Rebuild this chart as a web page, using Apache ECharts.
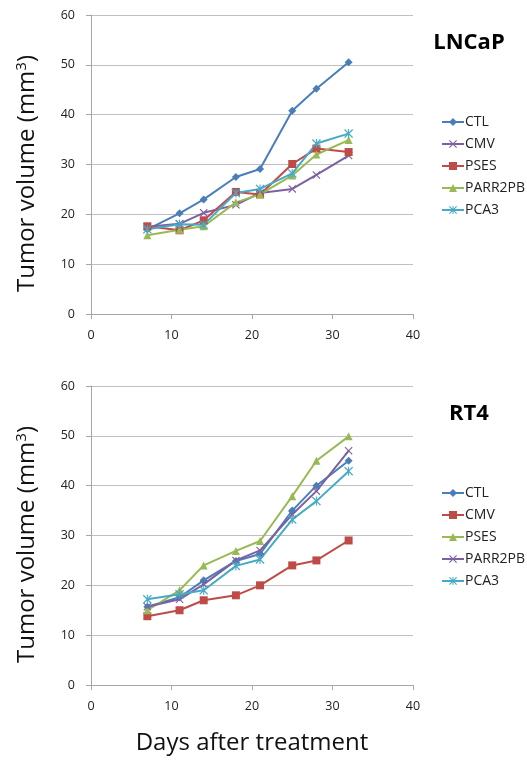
<!DOCTYPE html>
<html>
<head>
<meta charset="utf-8">
<script src="https://cdn.jsdelivr.net/npm/echarts@6/dist/echarts.min.js"></script>
<style>
  html, body { margin: 0; padding: 0; background: #fff; }
  #top { position: absolute; left: 0; top: 0; width: 527px; height: 372px; }
  #bottom { position: absolute; left: 0; top: 372px; width: 527px; height: 388px; }
</style>
</head>
<body>
<div id="top"></div>
<div id="bottom"></div>
<script>
// days after treatment
var days = [7, 11, 14, 18, 21, 25, 28, 32];

// LNCaP
var lnCTL     = [17.0, 20.2, 23.0, 27.5, 29.1, 40.8, 45.2, 50.5];
var lnCMV     = [17.5, 18.1, 20.3, 21.9, 24.3, 25.1, 27.9, 31.8];
var lnPSES    = [17.6, 16.8, 18.8, 24.5, 24.0, 30.1, 33.2, 32.5];
var lnPARR2PB = [15.8, 16.9, 17.6, 22.4, 24.0, 27.8, 32.0, 34.9];
var lnPCA3    = [17.0, 18.0, 17.9, 24.3, 25.1, 28.2, 34.2, 36.2];

// RT4
var rtCTL     = [15.7, 17.6, 21.0, 24.9, 26.3, 35.0, 40.0, 45.0];
var rtCMV     = [13.8, 15.0, 17.0, 18.0, 20.0, 24.0, 25.0, 29.0];
var rtPSES    = [15.0, 19.0, 24.0, 26.9, 28.9, 37.9, 45.0, 49.9];
var rtPARR2PB = [15.7, 17.2, 20.2, 25.0, 27.0, 34.2, 38.9, 47.0];
var rtPCA3    = [17.2, 18.2, 19.0, 23.9, 25.2, 33.2, 36.9, 42.9];

var BLUE = '#4a7ebb', RED = '#be4b48', GREEN = '#98b954', PURPLE = '#7d60a0', CYAN = '#46aac5';

var crossPath = 'path://M0,1L1,0L5,4L9,0L10,1L6,5L10,9L9,10L5,6L1,10L0,9L4,5Z';
var starPath = 'path://M0,1L1,0L5,4L9,0L10,1L6,5L10,9L9,10L5,6L1,10L0,9L4,5Z M4.4,0L5.6,0L5.6,10L4.4,10Z';

var marks = {
  diamond: { symbol: 'diamond', size: 8 },
  square: { symbol: 'rect', size: 8 },
  triangle: { symbol: 'triangle', size: 8 },
  cross: { symbol: crossPath, size: 8 },
  star: { symbol: starPath, size: 9 }
};

function pairs(vals) {
  return days.map(function (d, i) { return [d, vals[i]]; });
}

function mkSeries(name, vals, color, mark) {
  return {
    name: name,
    type: 'line',
    data: pairs(vals),
    symbol: marks[mark].symbol,
    symbolSize: marks[mark].size,
    showSymbol: true,
    lineStyle: { color: color, width: 2 },
    itemStyle: { color: color },
    emphasis: { disabled: true },
    animation: false
  };
}

function buildOption(title, series, showXName, gridTop) {
  return {
    animation: false,
    textStyle: { fontFamily: 'Open Sans' },
    title: {
      text: title,
      left: 464,
      textAlign: 'center',
      top: gridTop + 12,
      textStyle: { fontSize: 22, fontWeight: 'bold', color: '#000', fontFamily: 'Open Sans' }
    },
    legend: {
      orient: 'vertical',
      left: 436,
      top: gridTop + 95,
      itemGap: 8,
      itemWidth: 22,
      itemHeight: 10,
      textStyle: { fontSize: 14, color: '#222', padding: [0, 0, 0, -4] },
      data: series.map(function (s) { return s.name; })
    },
    grid: { left: 91, top: gridTop, width: 322, height: 299 },
    xAxis: {
      type: 'value',
      min: 0, max: 40, interval: 10,
      name: showXName ? 'Days after treatment' : '',
      nameLocation: 'middle',
      nameGap: 46,
      nameTextStyle: { fontSize: 24, color: '#111' },
      axisLine: { show: true, lineStyle: { color: '#a6a6a6' } },
      axisTick: { show: true, inside: false, length: 5, lineStyle: { color: '#a6a6a6' } },
      axisLabel: { fontSize: 12.5, color: '#222', margin: 15 },
      splitLine: { show: false }
    },
    yAxis: {
      type: 'value',
      min: 0, max: 60, interval: 10,
      name: 'Tumor volume (mm{sup|3})',
      nameLocation: 'middle',
      nameGap: 50,
      nameTextStyle: {
        fontSize: 24, color: '#111', padding: [0, 18, 0, 0],
        rich: { sup: { fontSize: 15, verticalAlign: 'top', padding: [0, 0, 12, 0], color: '#111' } }
      },
      axisLine: { show: true, lineStyle: { color: '#a6a6a6' } },
      axisTick: { show: true, inside: false, length: 5, lineStyle: { color: '#a6a6a6' } },
      axisLabel: { fontSize: 12.5, color: '#222', margin: 16 },
      splitLine: { show: true, lineStyle: { color: '#bfbfbf', width: 1 } }
    },
    series: series
  };
}

var topChart = echarts.init(document.getElementById('top'));
topChart.setOption(buildOption('LNCaP', [
  mkSeries('CTL', lnCTL, BLUE, 'diamond'),
  mkSeries('CMV', lnCMV, PURPLE, 'cross'),
  mkSeries('PSES', lnPSES, RED, 'square'),
  mkSeries('PARR2PB', lnPARR2PB, GREEN, 'triangle'),
  mkSeries('PCA3', lnPCA3, CYAN, 'star')
], false, 15));

var bottomChart = echarts.init(document.getElementById('bottom'));
bottomChart.setOption(buildOption('RT4', [
  mkSeries('CTL', rtCTL, BLUE, 'diamond'),
  mkSeries('CMV', rtCMV, RED, 'square'),
  mkSeries('PSES', rtPSES, GREEN, 'triangle'),
  mkSeries('PARR2PB', rtPARR2PB, PURPLE, 'cross'),
  mkSeries('PCA3', rtPCA3, CYAN, 'star')
], true, 14));
</script>
</body>
</html>
